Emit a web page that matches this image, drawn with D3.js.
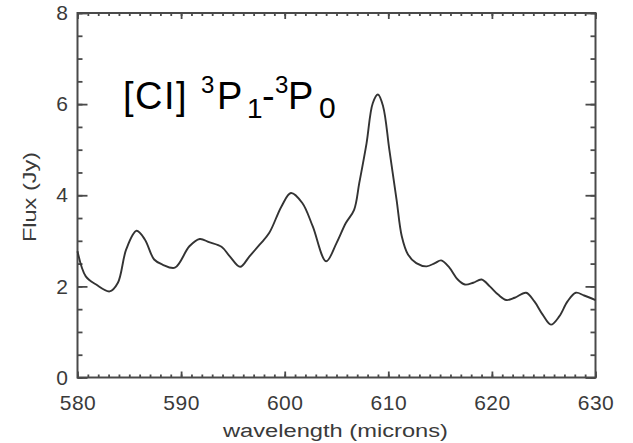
<!DOCTYPE html>
<html>
<head>
<meta charset="utf-8">
<script src="https://cdn.jsdelivr.net/npm/d3@7"></script>
<style>
  body { margin: 0; background: #fff; }
  svg { display: block; }
</style>
</head>
<body>
<svg></svg>
<script>
// spectrum
const wavelength = [580, 580.8, 581.8, 583.1, 583.9, 584.7, 585.7, 586.5, 587.4, 588.2, 589.4,
    590.8, 591.8, 592.7, 593.9, 594.7, 595.7, 596.6, 597.6, 598.5, 599.7, 600.6, 601.7, 602.7,
    604.0, 605.0, 605.9, 606.7, 607.2, 607.9, 608.5, 609.0, 609.5, 610.1, 610.8, 611.3, 611.9,
    612.7, 613.7, 614.5, 615.1, 615.9, 616.7, 617.4, 618.2, 619.0, 619.8, 620.6, 621.4, 622.2,
    623.3, 624.1, 624.9, 625.7, 626.5, 627.3, 628.1, 628.9, 630];
const flux = [2.77, 2.22, 2.04, 1.89, 2.08, 2.81, 3.22, 3.03, 2.59, 2.48, 2.41,
    2.88, 3.04, 2.97, 2.87, 2.66, 2.43, 2.66, 2.92, 3.17, 3.76, 4.05, 3.83, 3.32,
    2.55, 2.95, 3.39, 3.68, 4.27, 5.14, 6.02, 6.21, 5.95, 5.0, 3.90, 3.10, 2.70,
    2.51, 2.44, 2.51, 2.57, 2.41, 2.15, 2.04, 2.08, 2.15, 2.0, 1.82, 1.70, 1.75,
    1.86, 1.67, 1.38, 1.16, 1.34, 1.67, 1.86, 1.80, 1.70];

const xMajor = [580, 590, 600, 610, 620, 630];
const xMinor = d3.range(580, 631, 1);
const yMajor = [0, 2, 4, 6, 8];
const yMinor = d3.range(0, 8.01, 0.5);

const W = 633, H = 443;
const pLeft = 77.5, pRight = 595.5, pTop = 13, pBottom = 377.5;
const axisColor = "#4a4a4a";
const labelFont = "'Liberation Sans', Arial, sans-serif";

const svg = d3.select("svg").attr("width", W).attr("height", H);

const x = d3.scaleLinear().domain([580, 630]).range([pLeft, pRight]);
const y = d3.scaleLinear().domain([0, 8]).range([pBottom, pTop]);

// frame
svg.append("rect")
    .attr("x", pLeft).attr("y", pTop)
    .attr("width", pRight - pLeft).attr("height", pBottom - pTop)
    .attr("fill", "none")
    .attr("stroke", axisColor)
    .attr("stroke-width", 2);

// axes, ticks pointing inward
function styleAxis(g) {
    g.select(".domain").remove();
    g.selectAll(".tick line")
        .style("stroke", axisColor)
        .style("stroke-width", "1.8px");
    g.selectAll(".tick text")
        .attr("fill", "#3a3a3a")
        .style("font-family", labelFont)
        .style("font-size", "21px")
        .style("letter-spacing", "0.5px");
}

svg.append("g").attr("transform", `translate(0,${pBottom})`)
    .call(d3.axisBottom(x).tickValues(xMinor).tickSize(-3).tickFormat(""))
    .call(styleAxis);
svg.append("g").attr("transform", `translate(0,${pBottom})`)
    .call(d3.axisBottom(x).tickValues(xMajor).tickSize(-6).tickPadding(18).tickFormat(d3.format("d")))
    .call(styleAxis);
svg.append("g").attr("transform", `translate(0,${pTop})`)
    .call(d3.axisTop(x).tickValues(xMinor).tickSize(-3).tickFormat(""))
    .call(styleAxis);
svg.append("g").attr("transform", `translate(0,${pTop})`)
    .call(d3.axisTop(x).tickValues(xMajor).tickSize(-6).tickFormat(""))
    .call(styleAxis);

svg.append("g").attr("transform", `translate(${pLeft},0)`)
    .call(d3.axisLeft(y).tickValues(yMinor).tickSize(-5).tickFormat(""))
    .call(styleAxis);
svg.append("g").attr("transform", `translate(${pLeft},0)`)
    .call(d3.axisLeft(y).tickValues(yMajor).tickSize(-10).tickPadding(9).tickFormat(d3.format("d")))
    .call(styleAxis);
svg.append("g").attr("transform", `translate(${pRight},0)`)
    .call(d3.axisRight(y).tickValues(yMinor).tickSize(-5).tickFormat(""))
    .call(styleAxis);
svg.append("g").attr("transform", `translate(${pRight},0)`)
    .call(d3.axisRight(y).tickValues(yMajor).tickSize(-10).tickFormat(""))
    .call(styleAxis);

// spectrum
const pts = wavelength.map((w, i) => [w, flux[i]]);
svg.append("path")
    .datum(pts)
    .attr("fill", "none")
    .attr("stroke", "#333")
    .attr("stroke-width", 1.9)
    .attr("d", d3.line().x(d => x(d[0])).y(d => y(d[1])).curve(d3.curveCatmullRom.alpha(0.5)));

// axis titles
svg.append("text")
    .attr("x", 223).attr("y", 437)
    .attr("textLength", 225)
    .attr("lengthAdjust", "spacingAndGlyphs")
    .attr("fill", "#3a3a3a")
    .style("font-family", labelFont)
    .style("font-size", "18px")
    .text("wavelength (microns)");

svg.append("text")
    .attr("transform", "translate(36,242) rotate(-90)")
    .attr("textLength", 90)
    .attr("lengthAdjust", "spacingAndGlyphs")
    .attr("fill", "#3a3a3a")
    .style("font-family", labelFont)
    .style("font-size", "18px")
    .text("Flux (Jy)");

// line label
const lab = svg.append("text")
    .attr("fill", "#000")
    .style("font-family", labelFont)
    .style("font-size", "38px");
lab.append("tspan").attr("x", 123).attr("y", 109).style("letter-spacing", "1.5px").text("[CI]");
lab.append("tspan").attr("x", 201).attr("y", 93).style("font-size", "24px").text("3");
lab.append("tspan").attr("x", 217).attr("y", 109).text("P");
lab.append("tspan").attr("x", 247).attr("y", 118).style("font-size", "28px").text("1");
lab.append("tspan").attr("x", 262).attr("y", 109).text("-");
lab.append("tspan").attr("x", 275).attr("y", 93).style("font-size", "24px").text("3");
lab.append("tspan").attr("x", 288).attr("y", 109).text("P");
lab.append("tspan").attr("x", 319).attr("y", 118).style("font-size", "30px").text("0");
</script>
</body>
</html>
